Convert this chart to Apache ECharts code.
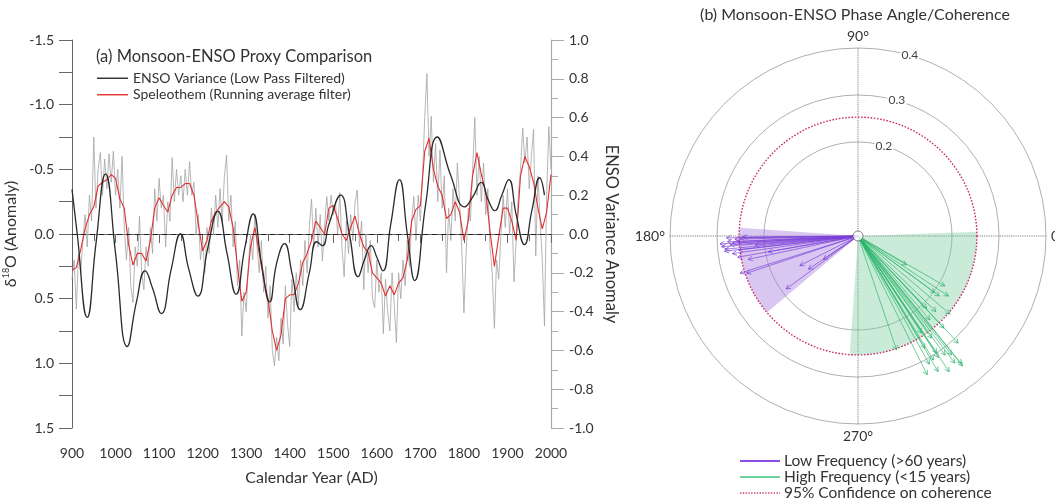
<!DOCTYPE html>
<html><head><meta charset="utf-8">
<script src="https://cdn.jsdelivr.net/npm/echarts@6/dist/echarts.min.js"></script>
<style>html,body{margin:0;padding:0;background:#fff}#c{width:1055px;height:502px}</style>
</head><body><div id="c"></div>
<script>
const FONT = 'Lato, "Open Sans", sans-serif';

// ---- Panel (a) data ----
const grayStartYear = 900, grayStep = 5;
const grayValues = [
 0.35, 0.2, 0.58, 0.15, 0.3, 0.05, -0.15, 0.1, -0.3, -0.1, -0.75, -0.2, -0.5, -0.63, -0.3, -0.58, -0.35, -0.62, -0.4, -0.64,
 -0.3, -0.5, -0.2, -0.6, -0.05, 0.2, -0.05, 0.4, 0.53, 0.1, 0.25, -0.14, 0.3, 0.43, 0.1, 0.25, -0.05, 0.15, -0.35, -0.1,
 -0.43, -0.2, -0.3, 0.1, -0.25, -0.1, -0.59, -0.25, -0.5, -0.3, -0.45, -0.25, -0.5, -0.3, -0.56, -0.3, -0.4, 0.0, -0.15, 0.2,
 0.05, 0.3, -0.05, 0.15, -0.2, 0.0, -0.3, -0.05, -0.35, -0.1, -0.45, -0.61, -0.1, -0.3, 0.1, -0.1, 0.4, 0.2, 0.79, 0.45,
 0.6, 0.25, 0.0, 0.2, -0.15, 0.1, 0.3, 0.05, 0.45, 0.25, 0.65, 0.4, 0.9, 1.02, 0.8, 0.98, 0.65, 0.85, 0.4, 0.7,
 0.87, 0.35, 0.6, 0.3, 0.55, 0.2, 0.4, 0.05, 0.3, -0.05, -0.27, 0.1, -0.2, 0.1, -0.15, 0.21, -0.05, -0.29, -0.1, -0.3,
 -0.15, -0.25, 0.0, -0.32, 0.1, 0.33, -0.1, 0.15, -0.15, 0.05, -0.24, -0.34, 0.1, -0.1, 0.43, 0.0, 0.3, 0.05, 0.5, 0.57,
 0.2, 0.45, 0.3, 0.77, 0.35, 0.6, 0.75, 0.3, 0.55, 0.84, 0.3, 0.5, 0.2, 0.4, 0.05, 0.25, -0.1, -0.29, 0.05, -0.3,
 -0.1, -0.45, -0.9, -1.24, -0.6, -0.91, -0.4, -0.7, -0.25, -0.65, -0.2, -0.45, 0.3, -0.2, 0.05, -0.35, -0.1, -0.55, -0.25, 0.1,
 0.61, 0.15, -0.2, -0.1, -0.5, -0.9, -0.3, -0.6, -0.25, -0.55, -0.15, -0.35, 0.1, 0.3, 0.73, 0.2, 0.35, 0.0, -0.3, -0.05,
 -0.35, 0.0, -0.25, 0.37, 0.05, -0.3, -0.5, -0.82, -0.55, -0.75, -0.35, -0.6, -0.81, 0.17, -0.45, -0.1, 0.2, 0.71, -0.3, -0.83,
 -0.5
];
const redStartYear = 900, redStep = 10;
const redValues = [
 0.28, 0.26, 0.12, -0.04, -0.15, -0.21, -0.37, -0.40, -0.42, -0.46,
 -0.43, -0.27, -0.2, 0.08, 0.24, 0.15, 0.15, 0.21, 0.05, -0.2,
 -0.28, -0.22, -0.17, -0.3, -0.36, -0.36, -0.39, -0.39, -0.3, -0.08,
 0.13, 0.05, -0.1, -0.17, -0.21, -0.25, -0.21, -0.05, 0.25, 0.52,
 0.45, 0.1, -0.05, 0.15, 0.35, 0.5, 0.75, 0.9, 0.78, 0.5,
 0.47, 0.47, 0.38, 0.22, 0.15, 0.05, -0.1, -0.05, 0.0, -0.2,
 -0.22, -0.12, 0.0, 0.05, -0.05, -0.14, 0.0, 0.1, 0.14, 0.3,
 0.34, 0.38, 0.48, 0.4, 0.47, 0.38, 0.34, 0.2, -0.1, -0.19,
 -0.22, -0.64, -0.74, -0.5, -0.37, -0.3, -0.12, -0.15, -0.25, -0.17,
 0.05, -0.1, -0.45, -0.63, -0.46, -0.33, -0.02, 0.25, 0.02, -0.2,
 -0.2, -0.1, 0.05, -0.45, -0.6, -0.52, -0.4, -0.2, -0.04, -0.17,
 -0.46
];
const ensoYears = [900, 912, 935, 955, 977, 1000, 1027, 1048, 1068, 1085, 1105, 1128, 1149, 1168, 1189, 1212, 1235, 1256, 1277, 1297,
 1316, 1335, 1354, 1370, 1388, 1405, 1424, 1445, 1462, 1475, 1490, 1517, 1537, 1557, 1572, 1587, 1600, 1614, 1632, 1652,
 1670, 1687, 1712, 1739, 1770, 1802, 1820, 1840, 1855, 1871, 1887, 1903, 1920, 1939, 1956, 1974, 1985];
const ensoValues = [0.23, 0.0, -0.43, -0.05, 0.31, -0.1, -0.58, -0.35, -0.19, -0.28, -0.41, -0.18, 0.0, -0.18, -0.32, -0.07, 0.117, -0.1, -0.31, -0.07,
 0.103, -0.15, -0.35, -0.15, -0.05, -0.2, -0.39, -0.2, -0.04, -0.06, 0.05, 0.2, 0.0, -0.22, -0.13, -0.06, -0.12, -0.19, 0.05, 0.28,
 0.0, -0.24, 0.15, 0.50, 0.3, 0.14, 0.19, 0.266, 0.18, 0.12, 0.2, 0.28, 0.1, -0.055, 0.12, 0.29, 0.2];

// ---- Panel (b) data: [coherence, phase angle in degrees] ----
const lowFreqArrows = [
 [0.294, 183.3], [0.291, 184.5], [0.286, 186.5], [0.284, 185.7], [0.278, 182.5], [0.273, 184], [0.267, 183.3],
 [0.262, 181.5], [0.258, 182.7], [0.256, 186.7], [0.251, 181], [0.27, 188], [0.26, 190], [0.239, 192],
 [0.263, 197.5], [0.25, 198.5], [0.194, 190], [0.139, 207], [0.127, 213.8], [0.19, 216.4], [0.089, 214],
 [0.22, 185], [0.245, 180.5], [0.28, 180.8]
];
const highFreqArrows = [
 [0.213, 330.1], [0.231, 326.4], [0.215, 323.6], [0.203, 323.6], [0.231, 315.9], [0.257, 319.7], [0.268, 313],
 [0.312, 313.1], [0.322, 308.2], [0.35, 309], [0.34, 307.3], [0.348, 303.9], [0.335, 300.6], [0.312, 299.1],
 [0.33, 296.5], [0.268, 305.8], [0.30, 303.9], [0.278, 300.8], [0.256, 288.7], [0.12, 329.2], [0.235, 310.6],
 [0.247, 303.2], [0.309, 301.3], [0.31, 303.5], [0.314, 306.2], [0.212, 313.5], [0.355, 308.8]
];
const lowFreqSector = [0.253, 176, 220];
const highFreqSector = [0.253, 266, 362];
const confidence95 = 0.253;

const grayData = grayValues.map((v, i) => [grayStartYear + i * grayStep, v]);
const redData = redValues.map((v, i) => [redStartYear + i * redStep, v]);
const ensoData = ensoYears.map((y, i) => [y, ensoValues[i]]);

function arrowRender(color) {
  return function (params, api) {
    const r = api.value(0), a = api.value(1);
    const c = api.coord([0, a]);
    const p = api.coord([r, a]);
    const ang = Math.atan2(p[1] - c[1], p[0] - c[0]);
    const L = 5, w = 0.5;
    const h1 = [p[0] - L * Math.cos(ang - w), p[1] - L * Math.sin(ang - w)];
    const h2 = [p[0] - L * Math.cos(ang + w), p[1] - L * Math.sin(ang + w)];
    return { type: 'group', children: [
      { type: 'line', shape: { x1: c[0], y1: c[1], x2: p[0], y2: p[1] }, style: { stroke: color, lineWidth: 0.9, opacity: 0.75 } },
      { type: 'polyline', shape: { points: [h1, p, h2] }, style: { stroke: color, fill: null, lineWidth: 0.9, opacity: 0.8 } }
    ]};
  };
}
function sectorRender(color) {
  return function (params, api) {
    const r = api.value(0), a0 = api.value(1), a1 = api.value(2);
    const c = api.coord([0, a0]);
    const p = api.coord([r, a0]);
    const R = Math.hypot(p[0] - c[0], p[1] - c[1]);
    return { type: 'sector', shape: { cx: c[0], cy: c[1], r0: 0, r: R,
      startAngle: -a1 * Math.PI / 180, endAngle: -a0 * Math.PI / 180, clockwise: true },
      style: { fill: color } };
  };
}
function circleRender(params, api) {
  const r = api.value(0);
  const c = api.coord([0, 0]);
  const p = api.coord([r, 0]);
  const R = Math.hypot(p[0] - c[0], p[1] - c[1]);
  return { type: 'circle', shape: { cx: c[0], cy: c[1], r: R },
    style: { fill: null, stroke: '#cc2a6a', lineWidth: 1.4, lineDash: [1.6, 1.6] } };
}

const chart = echarts.init(document.getElementById('c'), null, { renderer: 'canvas' });
const axisText = { color: '#333', fontFamily: FONT, fontSize: 14 };

chart.setOption({
  animation: false,
  backgroundColor: '#fff',
  textStyle: { fontFamily: FONT },
  title: [
    { text: '(a) Monsoon-ENSO Proxy Comparison', left: 96, top: 48, padding: 0,
      textStyle: { fontSize: 16.5, fontWeight: 'normal', color: '#333', fontFamily: FONT } },
    { text: '(b) Monsoon-ENSO Phase Angle/Coherence', left: 855, textAlign: 'center', top: 7, padding: 0,
      textStyle: { fontSize: 16, fontWeight: 'normal', color: '#333', fontFamily: FONT } }
  ],
  legend: {
    data: ['ENSO Variance (Low Pass Filtered)', 'Speleothem (Running average filter)'],
    left: 97, top: 71, orient: 'vertical', padding: 0, itemWidth: 31, itemHeight: 1.4, itemGap: 2,
    icon: 'rect',
    textStyle: { fontSize: 14, color: '#333', fontFamily: FONT, lineHeight: 14.5 }
  },
  grid: { left: 72, right: 504, top: 40, bottom: 74 },
  xAxis: {
    type: 'value', min: 900, max: 2000, interval: 100,
    name: 'Calendar Year (AD)', nameLocation: 'middle', nameGap: 42,
    nameTextStyle: { fontSize: 16, color: '#333', fontFamily: FONT },
    axisLine: { lineStyle: { color: '#666' } },
    axisTick: { length: 9, lineStyle: { color: '#666' } },
    minorTick: { show: true, splitNumber: 2, length: 7, lineStyle: { color: '#666' } },
    axisLabel: Object.assign({ margin: 18, formatter: v => String(v) }, axisText),
    splitLine: { show: false }
  },
  yAxis: [
    { type: 'value', min: -1.5, max: 1.5, interval: 0.5, inverse: true,
      name: '{a|δ}{s|18}{a|O (Anomaly)}', nameLocation: 'middle', nameGap: 52,
      nameTextStyle: { color: '#333', fontFamily: FONT, fontSize: 16,
        rich: { a: { fontSize: 16, color: '#333', fontFamily: FONT, lineHeight: 18 },
                s: { fontSize: 9, color: '#333', fontFamily: FONT, lineHeight: 18, verticalAlign: 'top' } } },
      axisLine: { show: true, lineStyle: { color: '#666' } },
      axisTick: { length: 13, lineStyle: { color: '#666' } },
      minorTick: { show: true, splitNumber: 2, length: 13, lineStyle: { color: '#666' } },
      axisLabel: Object.assign({ margin: 18, formatter: v => v.toFixed(1) }, axisText),
      splitLine: { show: false }
    },
    { type: 'value', min: -1, max: 1, interval: 0.2, position: 'right',
      name: 'ENSO Variance Anomaly', nameLocation: 'middle', nameGap: 52, nameRotate: -90,
      nameTextStyle: { fontSize: 16.5, color: '#333', fontFamily: FONT },
      axisLine: { show: true, lineStyle: { color: '#aaa', width: 1.2 } },
      axisTick: { length: 13, lineStyle: { color: '#aaa' } },
      minorTick: { show: true, splitNumber: 2, length: 7, lineStyle: { color: '#aaa' } },
      axisLabel: Object.assign({ margin: 18, formatter: v => v.toFixed(1) }, axisText),
      splitLine: { show: false }
    }
  ],
  polar: [
    { center: [858, 236], radius: 188 },
    { center: [858, 236], radius: 188 }
  ],
  angleAxis: [
    { polarIndex: 0, type: 'value', min: 0, max: 360, interval: 90, startAngle: 0, clockwise: false,
      axisLine: { show: false }, axisTick: { show: false },
      axisLabel: { margin: 5, color: '#333', fontSize: 14, fontFamily: FONT, formatter: v => v + '°' },
      splitLine: { show: true, lineStyle: { type: 'dotted', color: '#666', width: 0.9 } } },
    { polarIndex: 1, type: 'value', min: 0, max: 360, startAngle: 74, clockwise: false, show: false }
  ],
  radiusAxis: [
    { polarIndex: 0, type: 'value', min: 0, max: 0.4, interval: 0.1,
      axisLine: { show: false }, axisTick: { show: false }, axisLabel: { show: false },
      splitLine: { show: true, lineStyle: { width: 1, color: ['rgba(0,0,0,0)', 'rgba(0,0,0,0)', '#b0b0b0', '#b0b0b0', '#b0b0b0'] } } },
    { polarIndex: 1, type: 'value', min: 0, max: 0.4, interval: 0.1, z: 10,
      axisLine: { show: false }, axisTick: { show: false }, splitLine: { show: false },
      axisLabel: { margin: 0, align: 'center', verticalAlign: 'middle', backgroundColor: '#fff', padding: [0, 1],
        fontSize: 12, color: '#444', fontFamily: FONT, formatter: v => (v >= 0.15 ? v.toFixed(1) : '') } }
  ],
  series: [
    { name: 'raw', type: 'line', xAxisIndex: 0, yAxisIndex: 0, data: grayData, symbol: 'none',
      lineStyle: { color: '#a3a3a3', width: 0.8 }, z: 1, silent: true },
    { name: 'Speleothem (Running average filter)', type: 'line', xAxisIndex: 0, yAxisIndex: 0, data: redData,
      symbol: 'none', color: '#e0302f', lineStyle: { color: '#e0302f', width: 1.1 }, z: 3,
      markLine: { silent: true, symbol: 'none', label: { show: false },
        lineStyle: { color: '#222', type: [5, 4], width: 1 }, data: [{ yAxis: 0 }] } },
    { name: 'ENSO Variance (Low Pass Filtered)', type: 'line', xAxisIndex: 0, yAxisIndex: 1, data: ensoData,
      symbol: 'none', smooth: 0.5, color: '#2a2a2a', lineStyle: { color: '#2a2a2a', width: 1.3 }, z: 4 },

    { type: 'custom', coordinateSystem: 'polar', polarIndex: 0, data: [lowFreqSector],
      renderItem: sectorRender('rgba(170,130,225,0.45)'), z: 1, silent: true },
    { type: 'custom', coordinateSystem: 'polar', polarIndex: 0, data: [highFreqSector],
      renderItem: sectorRender('rgba(120,205,155,0.4)'), z: 1, silent: true },
    { type: 'custom', coordinateSystem: 'polar', polarIndex: 0, data: [[confidence95, 0]],
      renderItem: circleRender, z: 2, silent: true },
    { type: 'custom', coordinateSystem: 'polar', polarIndex: 0, data: lowFreqArrows,
      renderItem: arrowRender('#7a3fd6'), z: 3, silent: true },
    { type: 'custom', coordinateSystem: 'polar', polarIndex: 0, data: highFreqArrows,
      renderItem: arrowRender('#2bb46b'), z: 3, silent: true },
    { type: 'scatter', coordinateSystem: 'polar', polarIndex: 0, data: [[0, 0]], symbol: 'circle', symbolSize: 10,
      itemStyle: { color: '#fff', borderColor: '#666', borderWidth: 1 }, z: 6, silent: true }
  ],
  graphic: [
    { type: 'line', shape: { x1: 740, y1: 461, x2: 780, y2: 461 }, style: { stroke: '#8a4fe0', lineWidth: 2 } },
    { type: 'line', shape: { x1: 740, y1: 477, x2: 780, y2: 477 }, style: { stroke: '#3cc47c', lineWidth: 1.4 } },
    { type: 'line', shape: { x1: 740, y1: 493, x2: 780, y2: 493 }, style: { stroke: '#d0407a', lineWidth: 1.4, lineDash: [1.4, 1.4] } },
    { type: 'text', x: 784, y: 461, style: { text: 'Low Frequency (>60 years)', fontSize: 15.5, fill: '#333', fontFamily: FONT, verticalAlign: 'middle' } },
    { type: 'text', x: 784, y: 477, style: { text: 'High Frequency (<15 years)', fontSize: 15.5, fill: '#333', fontFamily: FONT, verticalAlign: 'middle' } },
    { type: 'text', x: 784, y: 493, style: { text: '95% Confidence on coherence', fontSize: 15.5, fill: '#333', fontFamily: FONT, verticalAlign: 'middle' } }
  ]
});
</script></body></html>
